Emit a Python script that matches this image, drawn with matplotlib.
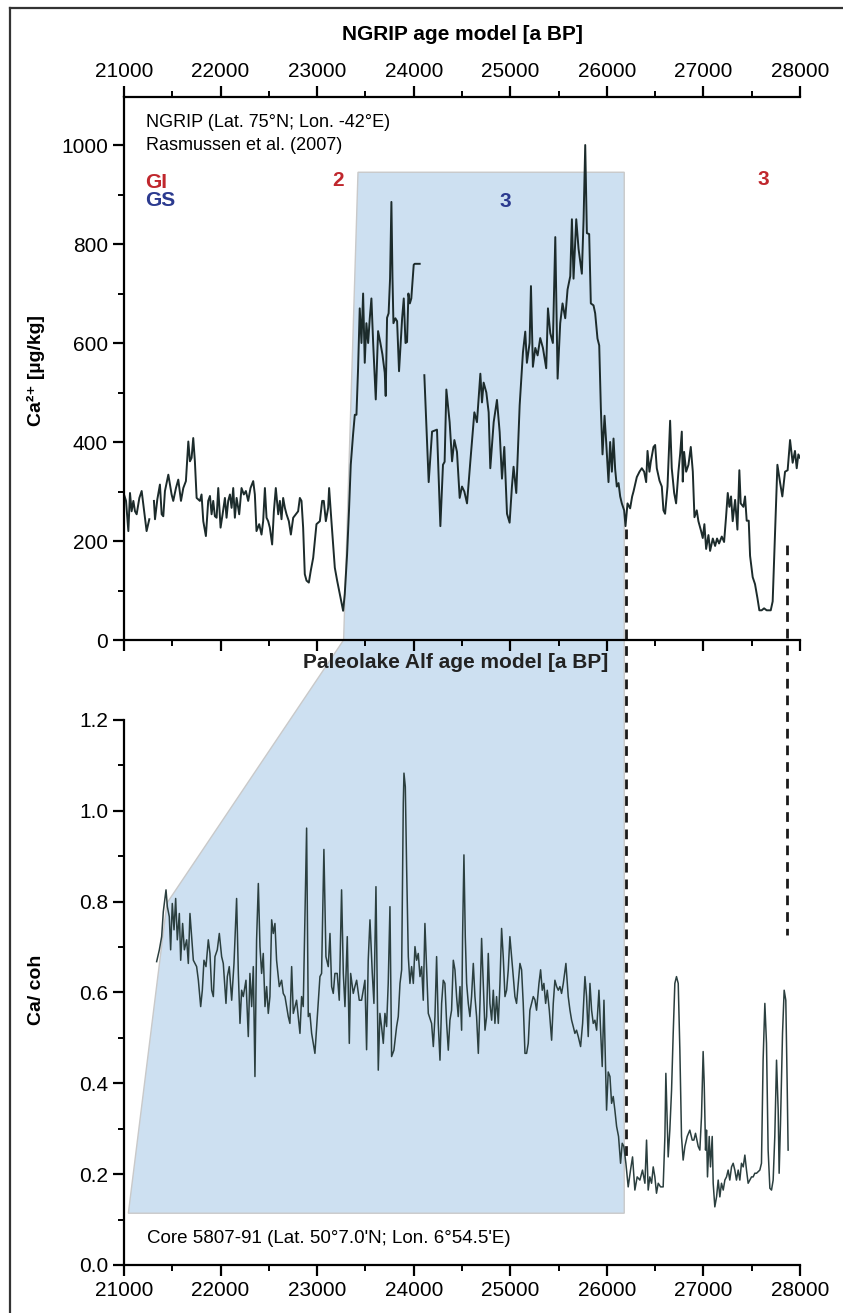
import numpy as np
import matplotlib
matplotlib.use('Agg')
import matplotlib.pyplot as plt
from matplotlib.patches import Polygon
from matplotlib.lines import Line2D
from matplotlib.ticker import MultipleLocator, FormatStrFormatter

plt.rcParams['font.family'] = ['Liberation Sans', 'DejaVu Sans']

nan = np.nan

# NGRIP Ca2+ record (age in a BP, Ca in ug/kg)
ngrip_age = [21000, 21021, 21045, 21062, 21079, 21097, 21114, 21131, 21159, 21183,
             21200, 21234, 21262, 21286, 21310, 21321, 21345, 21372, 21390, 21407,
             21424, 21459, 21493, 21510, 21538, 21562, 21590, 21614, 21641, 21666,
             21683, 21700, 21717, 21734, 21752, 21786, 21803, 21821, 21848, 21872,
             21890, 21907, 21924, 21941, 21959, 21976, 22000, 22021, 22045, 22062,
             22079, 22097, 22114, 22131, 22148, 22166, 22193, 22217, 22241, 22262,
             22286, 22310, 22338, 22355, 22372, 22400, 22424, 22441, 22459, 22476,
             22493, 22510, 22534, 22552, 22572, 22597, 22614, 22631, 22648, 22666,
             22683, 22707, 22728, 22752, 22779, 22803, 22821, 22838, 22855, 22872,
             22890, 22914, 22934, 22959, 22993, 23028, 23052, 23069, 23090, 23114,
             23124, 23148, 23183, 23207, 23234, 23269, 23286, 23310, 23331, 23348,
             23372, 23390, 23407, 23424, 23441, 23459, 23476, 23493, 23510, 23528,
             23545, 23562, 23580, 23607, 23631, 23655, 23676, 23700, 23710, 23724,
             23740, 23755, 23769, 23780, 23790, 23810, 23828, 23848, 23865, 23880,
             23897, 23915, 23931, 23945, 23960, 23975, 24000, 24010, 24062, 24086,
             24110, 24155, 24190, 24241, 24276, 24303, 24320, 24338, 24372, 24397,
             24421, 24448, 24476, 24500, 24524, 24552, 24586, 24628, 24655, 24690,
             24707, 24724, 24752, 24776, 24793, 24828, 24862, 24890, 24914, 24938,
             24966, 24993, 25017, 25034, 25062, 25097, 25131, 25155, 25172, 25200,
             25214, 25234, 25259, 25283, 25310, 25338, 25372, 25390, 25414, 25441,
             25466, 25490, 25517, 25541, 25569, 25593, 25621, 25638, 25655, 25683,
             25707, 25741, 25759, 25776, 25793, 25817, 25834, 25862, 25879, 25903,
             25921, 25938, 25955, 25976, 25993, 26017, 26034, 26052, 26069, 26086,
             26103, 26121, 26138, 26155, 26179, 26193, 26214, 26241, 26262, 26276,
             26310, 26338, 26362, 26386, 26407, 26421, 26441, 26455, 26483, 26500,
             26517, 26545, 26569, 26586, 26603, 26628, 26655, 26672, 26697, 26717,
             26741, 26759, 26776, 26786, 26800, 26821, 26845, 26869, 26890, 26907,
             26931, 26948, 26976, 26993, 27010, 27028, 27052, 27069, 27097, 27121,
             27141, 27162, 27190, 27214, 27234, 27252, 27269, 27286, 27303, 27328,
             27352, 27372, 27386, 27414, 27431, 27448, 27469, 27483, 27510, 27534,
             27559, 27579, 27603, 27628, 27655, 27697, 27717, 27741, 27766, 27793,
             27817, 27845, 27872, 27897, 27924, 27948, 27966, 27983, 28000]
ngrip_ca = [294, 281, 220, 297, 260, 281, 260, 254, 287, 301,
            274, 220, 244, nan, 281, 244, 284, 314, 254, 250,
            301, 334, 294, 281, 307, 324, 281, 307, 321, 401,
            361, 368, 408, 361, 287, 281, 294, 240, 210, 281,
            291, 254, 281, 250, 247, 307, 227, 254, 287, 247,
            281, 294, 267, 307, 247, 287, 254, 307, 294, 301,
            281, 307, 321, 294, 220, 234, 213, 240, 307, 247,
            240, 227, 193, 260, 307, 254, 281, 244, 287, 267,
            254, 240, 213, 247, 254, 260, 287, 281, 227, 133,
            120, 116, 140, 166, 234, 240, 281, 281, 240, 267,
            307, 240, 146, 120, 93, 59, 93, 173, 267, 354,
            415, 455, 455, 549, 670, 600, 700, 560, 640, 600,
            650, 690, 600, 486, 624, 600, 577, 540, 493, 651,
            660, 730, 885, 733, 640, 650, 644, 543, 600, 650,
            690, 600, 602, 700, 680, 690, 758, 760, 760, nan,
            535, 319, 421, 425, 230, 354, 360, 506, 440, 361,
            404, 380, 287, 310, 300, 276, 360, 460, 440, 538,
            480, 520, 500, 460, 347, 440, 485, 420, 326, 390,
            255, 237, 310, 350, 297, 474, 581, 623, 560, 600,
            715, 552, 590, 575, 610, 590, 549, 670, 620, 600,
            814, 528, 640, 680, 650, 708, 735, 850, 730, 850,
            790, 740, 850, 1000, 822, 820, 680, 676, 660, 609,
            595, 467, 375, 453, 400, 319, 400, 340, 407, 345,
            310, 317, 290, 276, 262, 230, 276, 266, 290, 300,
            329, 340, 347, 340, 319, 382, 340, 360, 390, 394,
            347, 322, 310, 262, 255, 310, 443, 347, 297, 276,
            340, 376, 421, 320, 380, 340, 354, 390, 340, 248,
            262, 240, 220, 206, 234, 184, 212, 180, 205, 190,
            205, 195, 209, 198, 248, 297, 269, 290, 240, 283,
            223, 343, 276, 269, 290, 241, 241, 170, 127, 113,
            85, 60, 60, 64, 60, 60, 78, 212, 354, 319,
            290, 340, 343, 404, 358, 382, 347, 375, 368]

# Paleolake Alf Ca/coh record (age in a BP)
alf_age = [21338, 21366, 21390, 21407, 21435, 21449, 21469, 21483, 21500, 21518,
           21535, 21552, 21573, 21587, 21607, 21625, 21649, 21666, 21683, 21700,
           21718, 21752, 21770, 21794, 21811, 21828, 21849, 21873, 21890, 21908,
           21925, 21942, 21966, 21987, 22011, 22028, 22056, 22070, 22090, 22115,
           22139, 22166, 22184, 22201, 22218, 22235, 22263, 22287, 22304, 22322,
           22339, 22356, 22373, 22391, 22408, 22425, 22442, 22460, 22477, 22494,
           22511, 22529, 22546, 22563, 22580, 22608, 22632, 22649, 22667, 22701,
           22718, 22736, 22753, 22787, 22822, 22839, 22856, 22874, 22891, 22908,
           22925, 22943, 22977, 22995, 23029, 23046, 23070, 23091, 23115, 23133,
           23150, 23167, 23184, 23208, 23229, 23253, 23271, 23288, 23312, 23333,
           23347, 23374, 23391, 23409, 23436, 23460, 23495, 23512, 23529, 23547,
           23571, 23588, 23609, 23622, 23633, 23650, 23667, 23685, 23702, 23719,
           23736, 23754, 23771, 23795, 23823, 23840, 23858, 23875, 23892, 23899,
           23913, 23927, 23944, 23961, 23978, 23996, 24013, 24030, 24047, 24065,
           24082, 24099, 24116, 24134, 24151, 24168, 24185, 24203, 24220, 24237,
           24254, 24272, 24289, 24306, 24323, 24341, 24358, 24375, 24392, 24410,
           24427, 24444, 24461, 24479, 24496, 24506, 24520, 24534, 24548, 24565,
           24582, 24599, 24617, 24634, 24651, 24669, 24686, 24703, 24720, 24738,
           24755, 24772, 24789, 24807, 24824, 24841, 24858, 24876, 24893, 24910,
           24927, 24945, 24962, 24979, 24996, 25014, 25031, 25048, 25065, 25083,
           25100, 25117, 25134, 25152, 25169, 25186, 25203, 25238, 25255, 25272,
           25297, 25314, 25331, 25348, 25366, 25383, 25404, 25428, 25445, 25462,
           25480, 25497, 25514, 25531, 25549, 25576, 25600, 25618, 25635, 25652,
           25669, 25686, 25704, 25728, 25749, 25773, 25790, 25807, 25825, 25842,
           25859, 25876, 25894, 25918, 25935, 25952, 25970, 25987, 25997, 26014,
           26032, 26049, 26066, 26083, 26101, 26121, 26142, 26159, 26176, 26197,
           26221, 26245, 26266, 26290, 26314, 26342, 26369, 26394, 26411, 26428,
           26445, 26463, 26480, 26497, 26514, 26532, 26556, 26583, 26601, 26611,
           26625, 26635, 26652, 26670, 26687, 26704, 26721, 26739, 26756, 26773,
           26790, 26808, 26832, 26859, 26884, 26901, 26918, 26946, 26963, 26980,
           26997, 27008, 27022, 27032, 27042, 27060, 27073, 27091, 27101, 27118,
           27136, 27153, 27170, 27187, 27205, 27222, 27239, 27256, 27273, 27291,
           27308, 27325, 27342, 27360, 27377, 27394, 27412, 27429, 27446, 27463,
           27481, 27498, 27515, 27532, 27550, 27584, 27601, 27618, 27636, 27653,
           27670, 27688, 27705, 27722, 27739, 27757, 27774, 27784, 27798, 27819,
           27836, 27853, 27867, 27877]
alf_ca = [0.668, 0.694, 0.723, 0.778, 0.826, 0.789, 0.767, 0.694, 0.796, 0.738,
          0.807, 0.716, 0.774, 0.671, 0.752, 0.694, 0.716, 0.664, 0.774, 0.723,
          0.671, 0.657, 0.627, 0.569, 0.605, 0.671, 0.657, 0.716, 0.686, 0.605,
          0.591, 0.679, 0.694, 0.730, 0.679, 0.664, 0.576, 0.635, 0.657, 0.583,
          0.664, 0.807, 0.642, 0.532, 0.605, 0.591, 0.627, 0.503, 0.642, 0.569,
          0.657, 0.415, 0.716, 0.840, 0.701, 0.642, 0.686, 0.569, 0.613, 0.554,
          0.591, 0.760, 0.730, 0.752, 0.671, 0.613, 0.627, 0.598, 0.591, 0.547,
          0.532, 0.657, 0.554, 0.583, 0.510, 0.591, 0.569, 0.767, 0.962, 0.547,
          0.554, 0.510, 0.466, 0.525, 0.635, 0.642, 0.915, 0.679, 0.657, 0.730,
          0.613, 0.598, 0.642, 0.642, 0.583, 0.826, 0.642, 0.569, 0.723, 0.488,
          0.642, 0.598, 0.613, 0.627, 0.583, 0.583, 0.627, 0.474, 0.671, 0.760,
          0.642, 0.576, 0.833, 0.605, 0.429, 0.554, 0.525, 0.488, 0.554, 0.525,
          0.620, 0.789, 0.459, 0.473, 0.525, 0.547, 0.620, 0.650, 1.016, 1.083,
          1.053, 0.870, 0.679, 0.620, 0.657, 0.620, 0.701, 0.671, 0.686, 0.635,
          0.657, 0.583, 0.752, 0.650, 0.554, 0.543, 0.532, 0.481, 0.547, 0.679,
          0.532, 0.451, 0.576, 0.627, 0.620, 0.532, 0.473, 0.539, 0.561, 0.671,
          0.650, 0.591, 0.547, 0.613, 0.517, 0.723, 0.903, 0.723, 0.620, 0.576,
          0.547, 0.591, 0.664, 0.591, 0.547, 0.466, 0.576, 0.719, 0.620, 0.517,
          0.547, 0.686, 0.576, 0.539, 0.605, 0.532, 0.591, 0.532, 0.620, 0.741,
          0.679, 0.591, 0.605, 0.650, 0.723, 0.679, 0.635, 0.591, 0.576, 0.620,
          0.664, 0.650, 0.576, 0.466, 0.466, 0.488, 0.561, 0.591, 0.584, 0.561,
          0.620, 0.650, 0.605, 0.620, 0.576, 0.605, 0.561, 0.495, 0.576, 0.627,
          0.613, 0.605, 0.613, 0.598, 0.620, 0.664, 0.591, 0.561, 0.539, 0.525,
          0.510, 0.517, 0.503, 0.481, 0.532, 0.635, 0.591, 0.503, 0.620, 0.561,
          0.532, 0.539, 0.517, 0.605, 0.517, 0.437, 0.583, 0.429, 0.341, 0.425,
          0.415, 0.356, 0.371, 0.341, 0.305, 0.283, 0.224, 0.268, 0.261, 0.224,
          0.172, 0.209, 0.238, 0.165, 0.194, 0.187, 0.209, 0.180, 0.275, 0.165,
          0.194, 0.180, 0.216, 0.194, 0.158, 0.180, 0.172, 0.172, 0.283, 0.422,
          0.312, 0.238, 0.297, 0.385, 0.510, 0.620, 0.635, 0.620, 0.473, 0.283,
          0.231, 0.261, 0.283, 0.297, 0.275, 0.275, 0.290, 0.261, 0.253, 0.327,
          0.470, 0.400, 0.253, 0.297, 0.194, 0.283, 0.216, 0.283, 0.180, 0.128,
          0.150, 0.187, 0.150, 0.180, 0.165, 0.187, 0.194, 0.209, 0.187, 0.216,
          0.224, 0.209, 0.187, 0.209, 0.187, 0.224, 0.216, 0.242, 0.209, 0.180,
          0.187, 0.194, 0.194, 0.202, 0.202, 0.209, 0.224, 0.451, 0.576, 0.488,
          0.253, 0.169, 0.165, 0.187, 0.283, 0.451, 0.341, 0.202, 0.312, 0.510,
          0.605, 0.583, 0.400, 0.253]

# tie points of the shaded correlation band (upper axis / lower axis)
band_upper = [(23274, 0), (23423, 945), (26180, 945)]
band_lower = [(26180, 0.114), (21045, 0.114), (21445, 0.797)]

# dashed tie lines: age, upper value, lower value
tie_age = [26197, 27862]
tie_upper = [225, 191]
tie_lower = [0.24, 0.727]

W, H = 843, 1313
fig = plt.figure(figsize=(W / 100, H / 100), dpi=100)
ax1 = fig.add_axes([124 / W, 1 - 640 / H, 676 / W, 543 / H])
ax2 = fig.add_axes([124 / W, 1 - 1265 / H, 676 / W, 545 / H])
for ax in (ax1, ax2):
    ax.set_facecolor('none')
    ax.set_xlim(21000, 28000)
    ax.spines['right'].set_visible(False)
    for s in ax.spines.values():
        s.set_linewidth(1.6)
    ax.xaxis.set_major_locator(MultipleLocator(1000))
    ax.xaxis.set_minor_locator(MultipleLocator(500))
    ax.tick_params(which='major', length=8, width=1.6, labelsize=15, direction='out')
    ax.tick_params(which='minor', length=4, width=1.4, direction='out')

ax1.plot(ngrip_age, ngrip_ca, color='#1c2b2b', lw=1.4)
ax1.set_ylim(0, 1097)
ax1.yaxis.set_major_locator(MultipleLocator(200))
ax1.yaxis.set_minor_locator(MultipleLocator(100))
ax1.tick_params(axis='x', which='both', top=True, bottom=True, labeltop=True, labelbottom=False)
ax1.set_ylabel('Ca²⁺ [µg/kg]', fontsize=14, fontweight='bold')
ax1.yaxis.set_label_coords(-0.117, 0.497)

ax2.plot(alf_age, alf_ca, color='#2b3f3f', lw=1.1)
ax2.set_ylim(0, 1.2)
ax2.spines['top'].set_visible(False)
ax2.yaxis.set_major_locator(MultipleLocator(0.2))
ax2.yaxis.set_minor_locator(MultipleLocator(0.1))
ax2.yaxis.set_major_formatter(FormatStrFormatter('%.1f'))
ax2.set_ylabel('Ca/ coh', fontsize=14, fontweight='bold')
ax2.yaxis.set_label_coords(-0.117, 0.505)

# texts
ax1.text(21230, 1046, 'NGRIP (Lat. 75°N; Lon. -42°E)', fontsize=13, va='center')
ax1.text(21230, 1000, 'Rasmussen et al. (2007)', fontsize=13, va='center')
ax1.text(21217, 925, 'GI', fontsize=15, fontweight='bold', color='#c0272d', va='center')
ax1.text(21217, 887, 'GS', fontsize=15, fontweight='bold', color='#2b3a8f', va='center')
ax1.text(23215, 929, '2', fontsize=15, fontweight='bold', color='#c0272d', ha='center', va='center')
ax1.text(24944, 885, '3', fontsize=15, fontweight='bold', color='#2b3a8f', ha='center', va='center')
ax1.text(27625, 931, '3', fontsize=15, fontweight='bold', color='#c0272d', ha='center', va='center')
ax2.text(21238, 0.059, "Core 5807-91 (Lat. 50°7.0'N; Lon. 6°54.5'E)", fontsize=13.5, va='center')

fig.text(462 / W, 1 - 35 / H, 'NGRIP age model [a BP]', fontsize=15, fontweight='bold',
         ha='center', va='center')
fig.text(456 / W, 1 - 662 / H, 'Paleolake Alf age model [a BP]', fontsize=15,
         fontweight='bold', ha='center', va='center', color='#222222')


def to_fig(ax, x, y):
    return fig.transFigure.inverted().transform(ax.transData.transform((x, y)))


pts = [to_fig(ax1, x, y) for x, y in band_upper] + [to_fig(ax2, x, y) for x, y in band_lower]
fig.add_artist(Polygon(pts, closed=True, transform=fig.transFigure, facecolor='#cde0f1',
                       edgecolor='#c9c9c9', lw=1.0, zorder=-1))

for a, u, l in zip(tie_age, tie_upper, tie_lower):
    p1 = to_fig(ax1, a, u)
    p2 = to_fig(ax2, a, l)
    fig.add_artist(Line2D([p1[0], p2[0]], [p1[1], p2[1]], transform=fig.transFigure,
                          color='#1a1a1a', lw=2.0, linestyle=(0, (3.5, 2.5)), zorder=5))

# outer frame
fig.add_artist(Line2D([10 / W, 10 / W], [0, 1 - 8 / H], transform=fig.transFigure,
                      color='#333333', lw=1.6))
fig.add_artist(Line2D([10 / W, 1], [1 - 8 / H, 1 - 8 / H], transform=fig.transFigure,
                      color='#333333', lw=1.6))

fig.savefig('out.png', dpi=100)
plt.close()
